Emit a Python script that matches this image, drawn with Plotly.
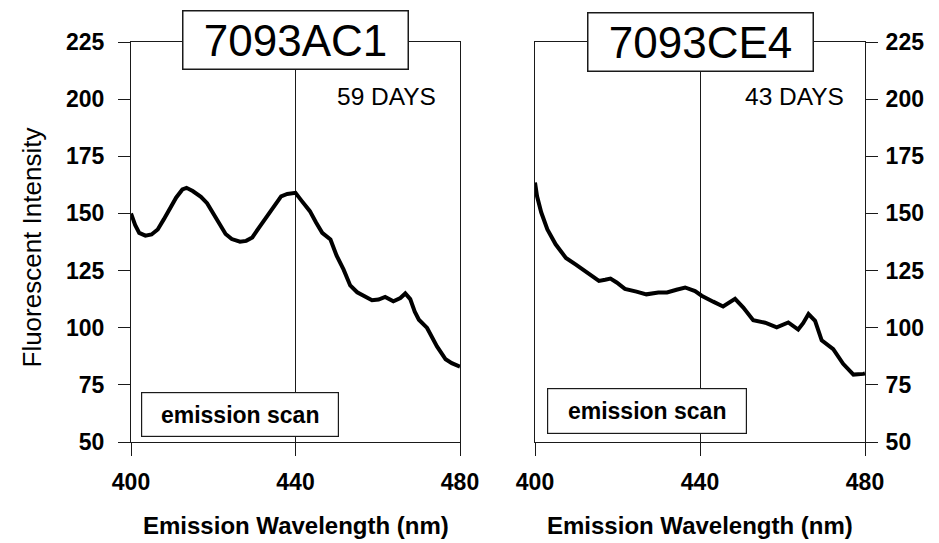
import plotly.graph_objects as go

# ---- data ----
wl_ac1 = [400, 401, 402, 403.5, 405, 406.5, 408, 409.5, 411, 412.5, 413.5, 415, 417, 418.5,
          420, 421.5, 423, 424.5, 426.5, 428, 429.5, 431, 432.5, 434, 435.5, 436.5, 438, 440,
          441.5, 443.5, 445, 446.5, 448.5, 450, 451.7, 453.3, 455, 457, 458.6, 460.2, 461.8,
          463.8, 465.5, 466.7, 467.9, 469, 470, 472, 474.4, 476.5, 478, 480]
int_ac1 = [150, 145, 141.5, 140.3, 140.8, 143, 147.5, 152, 157, 160.5, 161.2, 159.8, 157.3, 154.5,
           150, 145.5, 141, 138.8, 137.6, 138, 139.5, 143.5, 147.5, 151, 155.5, 157.5, 158.5, 159,
           155.5, 151, 146, 141.5, 138.6, 131.5, 125.4, 118.5, 115.5, 113.5, 112, 112.3, 113.5,
           111.6, 113, 115, 112.5, 107, 103.5, 99.9, 91.8, 86.2, 84.5, 83]

wl_ce4 = [400, 400.5, 401.5, 403, 405, 407.5, 410, 411.5, 413.3, 415.5, 417, 418.3, 419.8, 421.8,
          424.6, 427, 429.9, 432, 434.3, 436.4, 438.8, 440.4, 443.2, 445.6, 448.5, 450.5, 452.9,
          455.8, 458.6, 461.4, 463.8, 465, 466.3, 467.9, 469.5, 472.3, 474.7, 477.2, 479.6, 480]
int_ce4 = [163.5, 157.5, 150.5, 143, 136.5, 130.5, 127.5, 125.5, 123, 120.5, 121, 121.5, 119.8, 117,
           115.8, 114.6, 115.4, 115.4, 116.6, 117.6, 116, 114, 111.4, 109.3, 112.6, 108.8, 103.3,
           102.2, 100.2, 102.3, 99.2, 102, 106, 103, 94.5, 90.6, 84.2, 79.5, 79.8, 80]

x_ticks = [400, 440, 480]
y_ticks = [50, 75, 100, 125, 150, 175, 200, 225]
titles = ["7093AC1", "7093CE4"]
days = ["59 DAYS", "43 DAYS"]

W, H = 939, 543
FONT = "Liberation Sans, Arial, sans-serif"
LC = "#1a1a1a"

def px(x):
    return x / W

def py(y):
    return (H - y) / H

fig = go.Figure()
fig.add_trace(go.Scatter(x=wl_ac1, y=int_ac1, mode="lines", line=dict(color="black", width=4),
                         xaxis="x", yaxis="y", showlegend=False))
fig.add_trace(go.Scatter(x=wl_ce4, y=int_ce4, mode="lines", line=dict(color="black", width=4),
                         xaxis="x2", yaxis="y2", showlegend=False))

tickfont = dict(family=FONT, size=23, color="black", weight="bold")
xcommon = dict(range=[400, 480], tickvals=x_ticks, ticks="outside", ticklen=13, tickwidth=1,
               tickcolor=LC, showline=True, linecolor=LC, linewidth=1, mirror=True,
               showgrid=True, gridcolor=LC, gridwidth=1, zeroline=False, automargin=False,
               tickfont=tickfont, ticklabelstandoff=6)
ycommon = dict(range=[50, 225], tickvals=y_ticks, ticks="outside", ticklen=12, tickwidth=1,
               tickcolor=LC, showline=True, linecolor=LC, linewidth=1, mirror=True,
               showgrid=False, zeroline=False, automargin=False, tickfont=tickfont)

ydom = [py(442), py(42)]
fig.update_layout(
    width=W, height=H, margin=dict(l=0, r=0, t=0, b=0, autoexpand=False),
    paper_bgcolor="white", plot_bgcolor="white",
    xaxis=dict(domain=[px(131), px(460)], anchor="y", **xcommon),
    yaxis=dict(domain=ydom, anchor="x", side="left", ticklabelstandoff=9, **ycommon),
    xaxis2=dict(domain=[px(535), px(865)], anchor="y2", **xcommon),
    yaxis2=dict(domain=ydom, anchor="x2", side="right", ticklabelstandoff=3, **ycommon),
)

anns = []
# Big title boxes
for cx, cy, t in [(295, 40.5, titles[0]), (700, 42, titles[1])]:
    anns.append(dict(text=t, x=px(cx), y=py(cy), xref="paper", yref="paper", xanchor="center",
                     yanchor="middle", showarrow=False, width=224, height=57, borderpad=0,
                     bgcolor="white", bordercolor=LC, borderwidth=1.5,
                     font=dict(family=FONT, size=44, color="black")))
# day labels
for cx, t in [(386.5, days[0]), (794.5, days[1])]:
    anns.append(dict(text=t, x=px(cx), y=py(96), xref="paper", yref="paper", xanchor="center",
                     yanchor="middle", showarrow=False, font=dict(family=FONT, size=24.5, color="black")))
# emission scan boxes
for cx, cy, w, h in [(240, 415, 196, 43), (647, 410.5, 198, 44)]:
    anns.append(dict(text="emission scan", x=px(cx), y=py(cy), xref="paper", yref="paper",
                     xanchor="center", yanchor="middle", showarrow=False, width=w, height=h,
                     borderpad=0, bgcolor="white", bordercolor=LC, borderwidth=1.2,
                     font=dict(family=FONT, size=23, color="black", weight="bold")))
# axis titles
for cx in [295.5, 700]:
    anns.append(dict(text="Emission Wavelength (nm)", x=px(cx), y=py(525), xref="paper", yref="paper",
                     xanchor="center", yanchor="middle", showarrow=False,
                     font=dict(family=FONT, size=24, color="black", weight="bold")))
anns.append(dict(text="Fluorescent Intensity", x=px(31), y=py(247.5), xref="paper", yref="paper",
                 xanchor="center", yanchor="middle", showarrow=False, textangle=-90,
                 font=dict(family=FONT, size=26, color="black")))
fig.update_layout(annotations=anns)

fig.write_html("out.html")
